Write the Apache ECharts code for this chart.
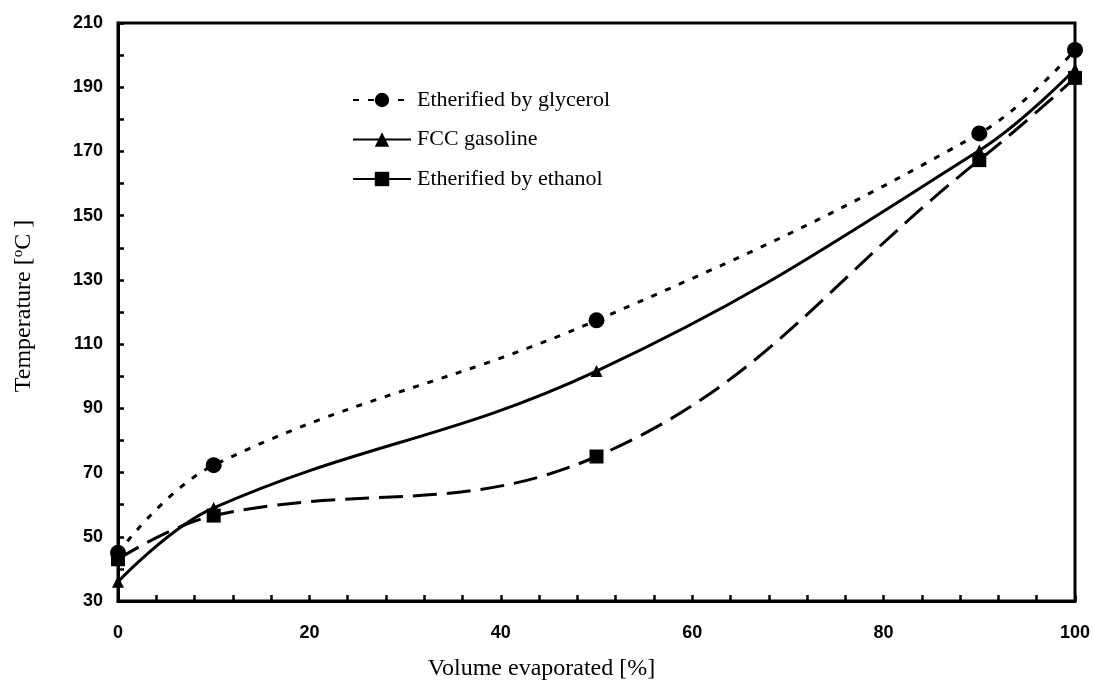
<!DOCTYPE html>
<html>
<head>
<meta charset="utf-8">
<title>Distillation curves</title>
<script src="https://cdn.jsdelivr.net/npm/echarts@6/dist/echarts.min.js"></script>
<style>
    html, body { margin: 0; padding: 0; background: #fff; }
    #chart { width: 1093px; height: 680px; }
</style>
</head>
<body>
<div id="chart"></div>
<script>
// volume evaporated [%]
var volume = [0, 10, 50, 90, 100];
// temperatures [oC]
var glycerol = [45, 72.3, 117.4, 175.6, 201.6];
var fcc = [36, 59, 101.6, 170.3, 195.6];
var ethanol = [43, 56.6, 75, 167.3, 192.9];
var xTicks = [0, 20, 40, 60, 80, 100];
var yTicks = [30, 50, 70, 90, 110, 130, 150, 170, 190, 210];

function pairs(ys) {
    return volume.map(function (x, i) { return [x, ys[i]]; });
}

var chart = echarts.init(document.getElementById('chart'));
var labelFont = { color: '#000', fontFamily: 'Liberation Sans', fontWeight: 'bold', fontSize: 18 };
var nameFont = 'Liberation Serif';

var option = {
    animation: false,
    grid: {
        left: 118,
        right: 18,
        top: 23,
        bottom: 79,
        outerBoundsMode: 'none',
        show: true,
        borderColor: '#000',
        borderWidth: 3
    },
    legend: {
        orient: 'vertical',
        left: 347,
        top: 84,
        itemWidth: 58,
        itemHeight: 18,
        itemGap: 17.5,
        textStyle: { fontFamily: nameFont, fontSize: 22, color: '#000', padding: [0, 0, 0, 1] },
        data: ['Etherified by glycerol', 'FCC gasoline', 'Etherified by ethanol']
    },
    xAxis: {
        type: 'value',
        min: xTicks[0],
        max: xTicks[xTicks.length - 1],
        interval: 20,
        name: 'Volume evaporated [%]',
        nameLocation: 'middle',
        nameGap: 56,
        nameTextStyle: { fontFamily: nameFont, fontSize: 24, color: '#000', padding: [0, 110, 0, 0] },
        axisLine: { lineStyle: { color: '#000', width: 3 } },
        axisTick: { inside: true, length: 6, lineStyle: { color: '#000', width: 2.5 } },
        minorTick: { show: true, splitNumber: 5, length: 6, lineStyle: { color: '#000', width: 2.5 } },
        axisLabel: Object.assign({ margin: 23 }, labelFont),
        splitLine: { show: false }
    },
    yAxis: {
        type: 'value',
        min: yTicks[0],
        max: yTicks[yTicks.length - 1],
        interval: 20,
        name: 'Temperature [{sup|o}C ]',
        nameLocation: 'middle',
        nameRotate: 90,
        nameGap: 82,
        nameTextStyle: {
            fontFamily: nameFont, fontSize: 24, color: '#000', padding: [0, 0, 0, 12],
            rich: { sup: { fontFamily: nameFont, fontSize: 15, color: '#000', verticalAlign: 'top', padding: [0, 0, 10, 0] } }
        },
        axisLine: { lineStyle: { color: '#000', width: 3 } },
        axisTick: { inside: true, length: 6, lineStyle: { color: '#000', width: 2.5 } },
        minorTick: { show: true, splitNumber: 2, length: 6, lineStyle: { color: '#000', width: 2.5 } },
        axisLabel: Object.assign({ margin: 15 }, labelFont),
        splitLine: { show: false }
    },
    series: [
        {
            name: 'Etherified by glycerol',
            type: 'line',
            smooth: 0.4,
            data: pairs(glycerol),
            symbol: 'circle',
            symbolSize: 16,
            itemStyle: { color: '#000' },
            lineStyle: { color: '#000', width: 3, type: [6, 9] }
        },
        {
            name: 'FCC gasoline',
            type: 'line',
            smooth: 0.4,
            data: pairs(fcc),
            symbol: 'triangle',
            symbolSize: 12,
            itemStyle: { color: '#000' },
            lineStyle: { color: '#000', width: 3 }
        },
        {
            name: 'Etherified by ethanol',
            type: 'line',
            smooth: 0.4,
            data: pairs(ethanol),
            symbol: 'rect',
            symbolSize: 14,
            itemStyle: { color: '#000' },
            lineStyle: { color: '#000', width: 3, type: [24, 10] }
        }
    ]
};
chart.setOption(option);
</script>
</body>
</html>
